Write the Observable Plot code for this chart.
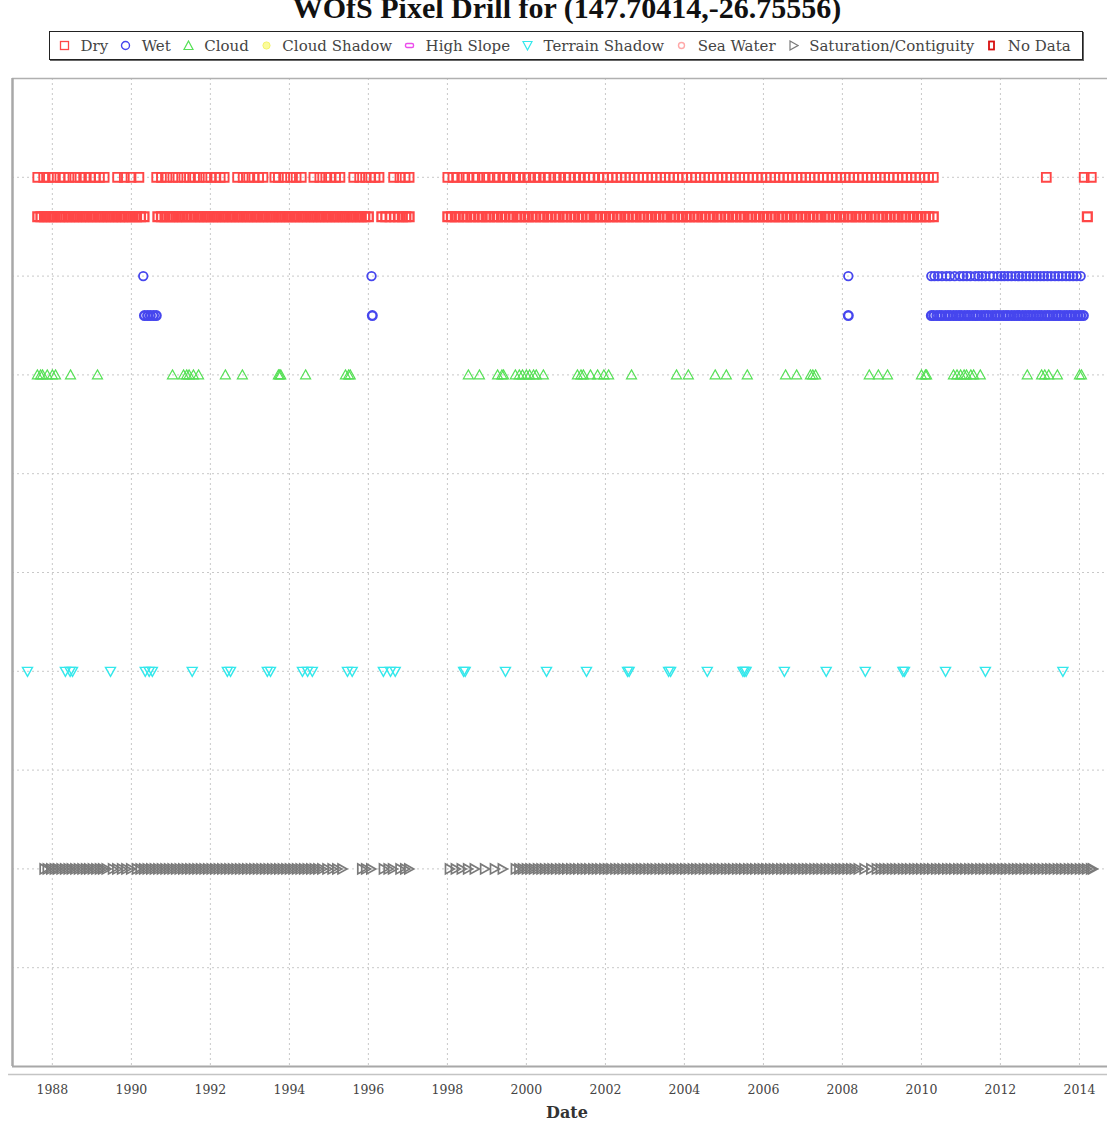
<!DOCTYPE html>
<html><head><meta charset="utf-8">
<script src="https://cdn.jsdelivr.net/npm/d3@7"></script>
<script src="https://cdn.jsdelivr.net/npm/@observablehq/plot@0.6"></script>
<style>
html,body{margin:0;padding:0;background:#fff}
body{width:1107px;height:1124px;overflow:hidden;position:relative;font-family:"DejaVu Serif",serif}
#title{position:absolute;left:0;width:1134px;top:-9px;text-align:center;font:bold 30px "Liberation Serif",serif;color:#111;line-height:34px;white-space:nowrap}
#legend{position:absolute;left:49px;top:31px;width:1023px;height:27px;border:1.5px solid #222;box-shadow:1px 1px 0 #666;background:#fff;display:flex;align-items:center;padding-left:9px;box-sizing:content-box;overflow:hidden}
#legend .item{display:flex;align-items:center;margin-right:12px;font-size:15px;color:#444;white-space:nowrap}
#legend svg{margin-right:10.5px;display:block}
#chart{position:absolute;left:0;top:70px}
#xlabel{position:absolute;left:0;width:1134px;top:1103px;text-align:center;font:bold 16px "DejaVu Serif",serif;color:#333}
</style></head>
<body>
<div id="title"></div>
<div id="legend"></div>
<div id="chart"></div>
<div id="xlabel">Date</div>
<script>
// ---------- data (decimal years) ----------
const titleText = "WOfS Pixel Drill for (147.70414,-26.75556)";
const legendLabels = ["Dry","Wet","Cloud","Cloud Shadow","High Slope","Terrain Shadow","Sea Water","Saturation/Contiguity","No Data"];
const tickYears = [1988,1990,1992,1994,1996,1998,2000,2002,2004,2006,2008,2010,2012,2014];
const gridLevels = [1,2,3,4,5,6,7,8,9];
const xStart = 1986.99, xEnd = 2014.71;
const levels = {dryA:9, dryB:8.6, wetA:8, wetB:7.6, cloud:7, terrain:4, saturation:2};

const dryA = [1987.63,1987.78,1987.90,1988.04,1988.19,1988.30,1988.42,1988.57,1988.70,1988.83,1988.96,1989.08,1989.19,1989.31,
1989.65,1989.82,1989.99,1990.19,
1990.64,1990.76,1990.90,1991.05,1991.18,1991.33,1991.47,1991.60,1991.72,1991.88,1992.01,1992.14,1992.25,1992.35,
1992.69,1992.83,1992.97,1993.10,1993.22,1993.33,
1993.63,1993.72,1993.88,1994.03,1994.17,1994.30,
1994.62,1994.77,1994.92,1995.04,1995.17,1995.28,
1995.63,1995.78,1995.93,1996.06,1996.17,1996.27,
1996.64,1996.80,1996.93,1997.03,
1998.01,1998.14,1998.25,1998.40,1998.52,1998.66,1998.77,1998.92,1999.04,1999.18,1999.30,1999.44,1999.55,1999.70,1999.81,1999.95,2000.07,2000.21,2000.33,2000.47,2000.58,2000.72,2000.84,2000.98,2001.09,2001.22,2001.34,2001.47,2001.59,2001.70,2001.83,2001.95,2002.06,2002.17,2002.29,2002.40,2002.50,2002.62,2002.73,2002.84,2002.95,2003.06,2003.18,2003.29,2003.40,2003.51,2003.62,2003.73,2003.84,2003.95,2004.06,2004.18,2004.29,2004.40,2004.51,2004.62,2004.73,2004.84,2004.95,2005.07,2005.18,2005.29,2005.40,2005.51,2005.62,2005.73,2005.84,2005.96,2006.07,2006.18,2006.29,2006.40,2006.51,2006.62,2006.73,2006.85,2006.96,2007.07,2007.18,2007.29,2007.40,2007.51,2007.62,2007.74,2007.85,2007.96,2008.07,2008.18,2008.29,2008.40,2008.51,2008.63,2008.74,2008.85,2008.96,2009.07,2009.18,2009.29,2009.40,2009.52,2009.63,2009.74,2009.85,2009.96,2010.07,2010.18,2010.30,
2013.16,2014.12,2014.30];

const dryB = [1987.63,1987.71,1987.80,1987.90,1987.98,1988.07,1988.17,1988.25,1988.34,1988.43,1988.52,1988.61,1988.70,1988.79,1988.88,1988.97,1989.06,1989.15,1989.24,1989.33,1989.42,1989.51,1989.60,1989.69,1989.77,1989.86,1989.95,1990.04,1990.13,1990.23,1990.32,
1990.67,1990.76,1990.85,1990.95,1991.04,1991.13,1991.22,1991.31,1991.40,1991.50,1991.59,1991.68,1991.77,1991.86,1991.95,1992.04,1992.13,1992.22,1992.31,1992.40,1992.49,1992.58,1992.67,1992.76,1992.85,1992.94,1993.03,1993.12,1993.21,1993.30,1993.39,1993.48,1993.57,1993.66,1993.75,1993.84,1993.93,1994.02,1994.11,1994.20,1994.29,1994.38,1994.47,1994.56,1994.65,1994.74,1994.83,1994.92,1995.01,1995.10,1995.19,1995.28,1995.37,1995.46,1995.55,1995.64,1995.73,1995.82,1995.91,1996.00,
1996.34,1996.44,1996.55,1996.66,1996.76,1996.86,1996.95,1997.03,
1998.01,1998.10,1998.20,1998.29,1998.40,1998.49,1998.59,1998.68,1998.79,1998.88,1998.98,1999.07,1999.18,1999.27,1999.37,1999.46,1999.57,1999.66,1999.76,1999.85,1999.96,2000.05,2000.15,2000.24,2000.35,2000.44,2000.54,2000.63,2000.74,2000.83,2000.93,2001.02,2001.13,2001.22,2001.32,2001.41,2001.52,2001.61,2001.71,2001.80,2001.91,2002.00,2002.10,2002.19,2002.30,2002.39,2002.49,2002.58,2002.69,2002.78,2002.88,2002.97,2003.08,2003.17,2003.27,2003.36,2003.47,2003.56,2003.66,2003.75,2003.86,2003.95,2004.05,2004.14,2004.25,2004.34,2004.44,2004.53,2004.64,2004.73,2004.83,2004.92,2005.03,2005.12,2005.22,2005.31,2005.42,2005.51,2005.61,2005.70,2005.81,2005.90,2006.00,2006.09,2006.20,2006.29,2006.39,2006.48,2006.59,2006.68,2006.78,2006.87,2006.98,2007.07,2007.17,2007.26,2007.37,2007.46,2007.56,2007.65,2007.76,2007.85,2007.95,2008.04,2008.15,2008.24,2008.34,2008.43,2008.54,2008.63,2008.73,2008.82,2008.93,2009.02,2009.12,2009.21,2009.32,2009.41,2009.51,2009.60,2009.71,2009.80,2009.90,2009.99,2010.10,2010.19,2010.30,
2014.20];

const wetA = [1990.30,1996.08,2008.15,
2010.25,2010.33,2010.42,2010.52,2010.63,2010.72,2010.84,2010.97,2011.06,2011.15,2011.24,2011.36,2011.45,2011.53,2011.62,2011.73,2011.82,2011.93,2012.02,2012.10,2012.19,2012.28,2012.38,2012.47,2012.55,2012.65,2012.74,2012.83,2012.92,2013.01,2013.10,2013.19,2013.28,2013.38,2013.47,2013.56,2013.66,2013.75,2013.84,2013.93,2014.03];

const wetB = [1990.33,1990.41,1990.48,1990.56,1990.63,1996.10,2008.15,
2010.25,2010.31,2010.39,2010.46,2010.52,2010.60,2010.67,2010.73,2010.81,2010.88,2010.95,2011.01,2011.09,2011.16,2011.22,2011.30,2011.37,2011.43,2011.51,2011.58,2011.65,2011.71,2011.79,2011.86,2011.93,2011.99,2012.07,2012.14,2012.20,2012.28,2012.35,2012.42,2012.48,2012.56,2012.63,2012.70,2012.76,2012.84,2012.91,2012.98,2013.04,2013.12,2013.19,2013.25,2013.33,2013.40,2013.47,2013.53,2013.61,2013.68,2013.75,2013.81,2013.89,2013.96,2014.03,2014.10];

const cloud = [1987.62,1987.70,1987.75,1987.87,1988.00,1988.08,1988.46,1989.14,1991.04,1991.32,1991.40,1991.46,1991.57,1991.70,1992.38,1992.81,1993.72,1993.75,1993.78,1994.41,1995.42,1995.50,1995.54,
1998.53,1998.81,1999.27,1999.38,1999.42,1999.72,1999.82,1999.90,2000.00,2000.08,2000.18,2000.25,2000.43,2001.29,2001.38,2001.44,2001.62,2001.80,2001.96,2002.08,2002.66,2003.80,2004.10,2004.78,2005.06,2005.59,2006.56,2006.84,2007.19,2007.25,2007.32,2008.68,2008.91,2009.14,2010.00,2010.10,2010.13,2010.81,2010.90,2010.99,2011.08,2011.14,2011.25,2011.32,2011.49,2012.68,2013.04,2013.12,2013.22,2013.44,2014.00,2014.05];

const terrain = [1987.37,1988.33,1988.45,1988.51,1989.47,1990.35,1990.45,1990.53,1991.54,1992.43,1992.51,1993.44,1993.52,1994.33,1994.46,1994.58,1995.47,1995.59,1996.38,1996.56,1996.68,
1998.41,1998.45,1999.47,2000.51,2001.52,2002.56,2002.60,2003.60,2003.65,2004.58,2005.48,2005.52,2005.56,2006.53,2007.59,2008.58,2009.53,2009.57,2010.61,2011.62,2013.58];

const saturation = [1987.79,1987.87,1987.96,1988.05,1988.13,1988.22,1988.31,1988.40,1988.48,1988.57,1988.66,1988.75,1988.84,1988.92,1989.01,1989.10,1989.19,1989.27,1989.36,
1989.52,1989.63,1989.75,1989.86,1989.98,
1990.13,1990.22,1990.31,1990.40,1990.49,1990.58,1990.67,1990.76,1990.85,1990.94,1991.03,1991.12,1991.21,1991.30,1991.39,1991.48,1991.57,1991.66,1991.75,1991.84,1991.93,1992.02,1992.11,1992.20,1992.29,1992.38,1992.47,1992.56,1992.65,1992.74,1992.83,1992.92,1993.01,1993.10,1993.19,1993.28,1993.37,1993.46,1993.55,1993.64,1993.73,1993.82,1993.91,1994.00,1994.09,1994.18,1994.27,1994.36,1994.45,1994.54,1994.63,1994.72,
1994.82,1994.95,1995.08,1995.20,1995.33,
1995.83,1995.93,1996.06,1996.38,1996.50,1996.61,1996.80,1996.92,1997.02,
1998.05,1998.20,1998.35,1998.51,1998.68,1998.94,1999.19,1999.39,
1999.72,1999.81,1999.90,2000.00,2000.09,2000.18,2000.28,2000.37,2000.46,2000.56,2000.65,2000.74,2000.84,2000.93,2001.02,2001.12,2001.21,2001.30,2001.40,2001.49,2001.58,2001.68,2001.77,2001.86,2001.96,2002.05,2002.14,2002.24,2002.33,2002.42,2002.52,2002.61,2002.70,2002.80,2002.89,2002.98,2003.08,2003.17,2003.26,2003.36,2003.45,2003.54,2003.64,2003.73,2003.82,2003.92,2004.01,2004.10,2004.20,2004.29,2004.38,2004.48,2004.57,2004.66,2004.76,2004.85,2004.94,2005.04,2005.13,2005.22,2005.32,2005.41,2005.50,2005.60,2005.69,2005.78,2005.88,2005.97,2006.06,2006.16,2006.25,2006.34,2006.44,2006.53,2006.62,2006.72,2006.81,2006.90,2007.00,2007.09,2007.18,2007.28,2007.37,2007.46,2007.56,2007.65,2007.74,2007.84,2007.93,2008.02,2008.12,2008.21,2008.30,2008.40,2008.55,2008.72,2008.86,2008.96,2009.05,2009.14,2009.24,2009.33,2009.42,2009.52,2009.61,2009.70,2009.80,2009.89,2009.98,2010.08,2010.17,2010.26,2010.36,2010.45,2010.54,2010.64,2010.73,2010.82,2010.92,2011.01,2011.10,2011.20,2011.29,2011.38,2011.48,2011.57,2011.66,2011.76,2011.85,2011.94,2012.04,2012.13,2012.22,2012.32,2012.41,2012.50,2012.60,2012.69,2012.78,2012.88,2012.97,2013.06,2013.16,2013.25,2013.34,2013.44,2013.53,2013.62,2013.72,2013.81,2013.90,2014.00,2014.09,2014.18,2014.28,2014.33];

// ---------- helpers ----------
const dec = y => { const f = Math.floor(y); return new Date(Date.UTC(f,0,1) + (y - f) * 365.25 * 864e5); };
const rOf = size => Math.sqrt(size / Math.PI);
const symSquare = {draw(c, s){const r=rOf(s); c.moveTo(-r,-r); c.lineTo(r,-r); c.lineTo(r,r); c.lineTo(-r,r); c.closePath();}};
const symUp = {draw(c, s){const r=rOf(s); c.moveTo(0,-r); c.lineTo(r,r*0.78); c.lineTo(-r,r*0.78); c.closePath();}};
const symDown = {draw(c, s){const r=rOf(s); c.moveTo(0,r); c.lineTo(r,-r*0.78); c.lineTo(-r,-r*0.78); c.closePath();}};
const symRight = {draw(c, s){const r=rOf(s); c.moveTo(r,0); c.lineTo(-r*0.78,-r); c.lineTo(-r*0.78,r); c.closePath();}};

const colors = {dry:"#ff4646", wet:"#4646ee", cloud:"#55e055", cshadow:"#f4f46a", slope:"#ec4cec", terrain:"#33e8ec", sea:"#ffa8a8", sat:"#7a7a7a", nodata:"#d81010"};

// ---------- title & legend ----------
document.getElementById("title").textContent = titleText;
const legendIcons = [
  `<rect x="1.5" y="1.5" width="8" height="8" fill="none" stroke="${colors.dry}" stroke-width="1.3"/>`,
  `<circle cx="5.5" cy="5.5" r="4" fill="none" stroke="${colors.wet}" stroke-width="1.4"/>`,
  `<path d="M5.5,1 L10,9.5 L1,9.5 Z" fill="none" stroke="${colors.cloud}" stroke-width="1.2"/>`,
  `<circle cx="5.5" cy="5.5" r="3.6" fill="#fbfb9a" stroke="${colors.cshadow}" stroke-width="1"/>`,
  `<rect x="1.5" y="3.5" width="8" height="4" rx="1.5" fill="none" stroke="${colors.slope}" stroke-width="1.4"/>`,
  `<path d="M5.5,10 L10,1.5 L1,1.5 Z" fill="none" stroke="${colors.terrain}" stroke-width="1.2"/>`,
  `<circle cx="5.5" cy="5.5" r="3" fill="none" stroke="${colors.sea}" stroke-width="1.4"/>`,
  `<path d="M10,5.5 L2,1 L2,10 Z" fill="none" stroke="${colors.sat}" stroke-width="1.2"/>`,
  `<rect x="3" y="1.5" width="5" height="8" fill="none" stroke="${colors.nodata}" stroke-width="1.8"/>`
];
const leg = document.getElementById("legend");
legendLabels.forEach((lab, i) => {
  const d = document.createElement("div");
  d.className = "item";
  d.innerHTML = `<svg width="11" height="11" viewBox="0 0 11 11">${legendIcons[i]}</svg><span>${lab}</span>`;
  leg.appendChild(d);
});

// ---------- chart ----------
const tickDates = tickYears.map(y => new Date(Date.UTC(y,0,1)));
const dotOpts = (arr, level, symbol, color, r, sw) => Plot.dot(arr, {x: d => dec(d), y: () => level, symbol, r, stroke: color, strokeWidth: sw, fill: "none"});

const chart = Plot.plot({
  width: 1107, height: 1054,
  marginLeft: 12, marginRight: 0, marginTop: 8, marginBottom: 58,
  style: {background: "transparent", fontFamily: "DejaVu Serif", fontSize: "12.5px", color: "#444"},
  x: {type: "utc", domain: [dec(xStart), dec(xEnd)], label: null},
  y: {domain: [0, 10], axis: null},
  marks: [
    Plot.gridX(tickDates, {stroke: "#c8c8c8", strokeOpacity: 1, strokeDasharray: "2,3"}),
    Plot.gridY(gridLevels, {stroke: "#c8c8c8", strokeOpacity: 1, strokeDasharray: "2,3"}),
    Plot.ruleY([0], {dy: 8, stroke: "#c4c4c4", strokeWidth: 1.5, x1: dec(xStart - 0.1), x2: dec(xEnd)}),
    Plot.ruleY([0], {stroke: "#a8a8a8", strokeWidth: 2}),
    Plot.ruleY([10], {stroke: "#b0b0b0", strokeWidth: 1.5}),
    Plot.ruleX([dec(xStart)], {stroke: "#a8a8a8", strokeWidth: 2.5}),
    Plot.axisX(tickDates, {tickFormat: d => String(d.getUTCFullYear()), tickSize: 0, tickPadding: 19, fill: "#444", label: null}),
    dotOpts(saturation, levels.saturation, symRight, colors.sat, 5, 1.7),
    dotOpts(terrain, levels.terrain, symDown, colors.terrain, 5, 1.4),
    dotOpts(cloud, levels.cloud, symUp, colors.cloud, 5, 1.2),
    dotOpts(wetB, levels.wetB, "circle", colors.wet, 4.3, 2.4),
    dotOpts(wetA, levels.wetA, "circle", colors.wet, 4.3, 1.8),
    dotOpts(dryB, levels.dryB, symSquare, colors.dry, 4.4, 2.3),
    dotOpts(dryA, levels.dryA, symSquare, colors.dry, 4.4, 1.9)
  ]
});
document.getElementById("chart").appendChild(chart);
</script>
</body></html>
